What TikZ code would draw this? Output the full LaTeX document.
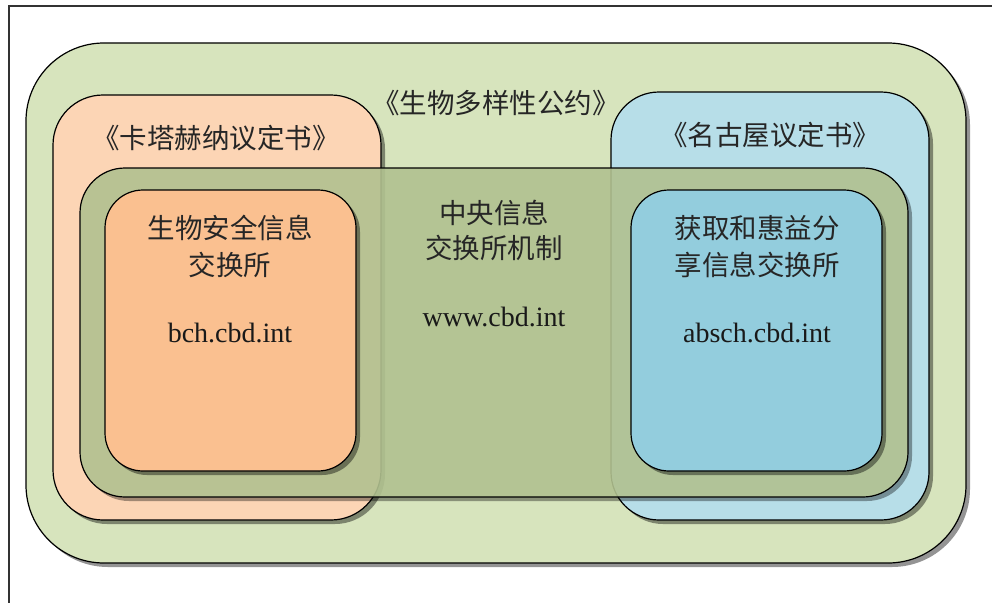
\documentclass[tikz,border=0pt]{standalone}
\usepackage{fontspec}
\setmainfont{Liberation Serif}
\newfontfamily\cjk{Noto Sans CJK SC}
\definecolor{outergreen}{HTML}{D7E4BD}
\definecolor{bigorange}{HTML}{FCD5B5}
\definecolor{bigblue}{HTML}{B7DEE8}
\definecolor{midgreen}{HTML}{B1C190}
\definecolor{inorange}{HTML}{FAC090}
\definecolor{inblue}{HTML}{93CDDD}
\tikzset{
  boxline/.style={draw=black, line width=1.2pt},
  shadowfill/.style={fill=black, opacity=0.42},
  zh/.style={font=\cjk\fontsize{27.5pt}{37pt}\selectfont, inner sep=0pt, anchor=base, text=black!85},
  url/.style={font=\fontsize{28pt}{34pt}\selectfont, inner sep=0pt, anchor=base, text=black!90},
}
\newcommand\rrbox[6]{%
  \fill[shadowfill, rounded corners=#5] (#1+4,#2+4) rectangle (#3+4,#4+4);
  \filldraw[boxline, fill=#6, rounded corners=#5] (#1,#2) rectangle (#3,#4);
}
\begin{document}
\begin{tikzpicture}[x=1pt, y=-1pt]
\useasboundingbox (0,0) rectangle (992,602);
\fill[white] (0,0) rectangle (992,602);
\clip (0,0) rectangle (992,602);
% outer frame
\draw[line width=1.2pt, black!80] (9,6) rectangle (1020,630);
% outer convention box
\rrbox{26}{43}{966}{563}{78pt}{outergreen}
% protocols
\rrbox{53}{95}{381}{520}{50pt}{bigorange}
\rrbox{611}{92}{929}{520}{48pt}{bigblue}
% middle clearing-house (translucent)
\begin{scope}[transparency group, opacity=0.9]
  \fill[black, opacity=0.4, rounded corners=45pt] (84,172) rectangle (912,501);
  \fill[midgreen, rounded corners=45pt] (80,168) rectangle (908,497);
\end{scope}
\draw[boxline, rounded corners=45pt] (80,168) rectangle (908,497);
% inner boxes
\rrbox{105}{190}{356}{471}{38pt}{inorange}
\rrbox{631}{190}{882}{471}{38pt}{inblue}
% texts
\node[zh] (cbd) at (496,113.5) {《生物多样性公约》};
\node[zh] (cart) at (216,148) {《卡塔赫纳议定书》};
\node[zh] (nag) at (770,145) {《名古屋议定书》};
\node[zh] (chm1) at (494,223.5) {中央信息};
\node[zh] (chm2) at (494,258.5) {交换所机制};
\node[url] (chmurl) at (494,326.5) {www.cbd.int};
\node[zh] (bch1) at (230,238.5) {生物安全信息};
\node[zh] (bch2) at (230,275.5) {交换所};
\node[url] (bchurl) at (230,342.5) {bch.cbd.int};
\node[zh] (abs1) at (757,238.5) {获取和惠益分};
\node[zh] (abs2) at (757,275.5) {享信息交换所};
\node[url] (absurl) at (757,342.5) {absch.cbd.int};
\end{tikzpicture}
\end{document}
